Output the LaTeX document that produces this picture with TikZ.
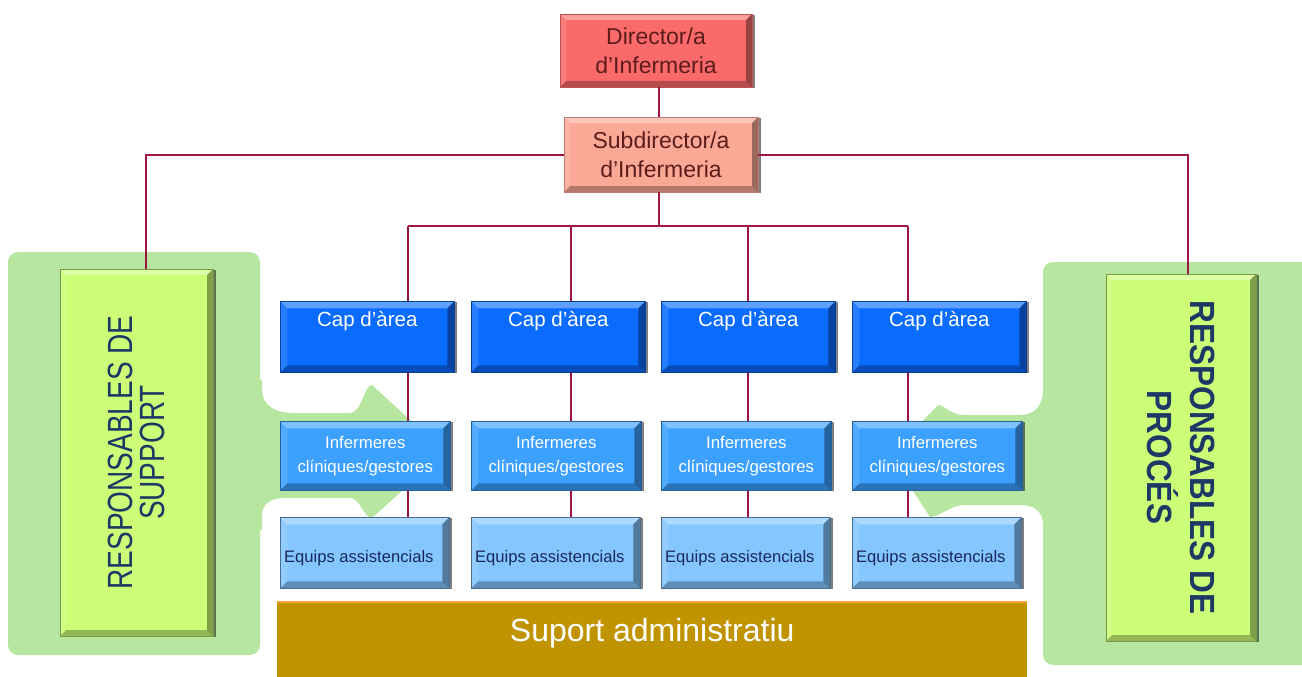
\documentclass[tikz,border=0pt]{standalone}
\usepackage{fontspec}
\setmainfont{Liberation Sans}
\usetikzlibrary{shadows}
\definecolor{linec}{RGB}{160,20,70}
\definecolor{dirc}{RGB}{250,106,106}
\definecolor{subc}{RGB}{251,168,150}
\definecolor{dirtext}{RGB}{92,28,28}
\definecolor{capc}{RGB}{10,108,255}
\definecolor{infc}{RGB}{60,160,255}
\definecolor{eqc}{RGB}{132,198,255}
\definecolor{eqtext}{RGB}{25,40,90}
\definecolor{supc}{RGB}{191,148,0}
\definecolor{supline}{RGB}{245,165,60}
\definecolor{gbg}{RGB}{182,230,160}
\definecolor{gbox}{RGB}{204,255,119}
\definecolor{gtext}{RGB}{30,55,100}
\newcommand\fdir{\fontsize{23}{29}\selectfont}
\newcommand\fcap{\fontsize{20.5}{24}\selectfont}
\newcommand\finf{\fontsize{16.8}{24}\selectfont}
\newcommand\feq{\fontsize{16.6}{20}\selectfont}
\newcommand\fadm{\fontsize{32}{36}\selectfont}
\tikzset{
  bevel/.style={path picture={
    \path (path picture bounding box.north west) coordinate (bNW)
          (path picture bounding box.north east) coordinate (bNE)
          (path picture bounding box.south west) coordinate (bSW)
          (path picture bounding box.south east) coordinate (bSE);
    \fill[white,opacity=.35] (bNW) -- (bNE) -- ([xshift=-#1,yshift=-#1]bNE) -- ([xshift=#1,yshift=-#1]bNW) -- cycle;
    \fill[black,opacity=.28] (bSW) -- (bSE) -- ([xshift=-#1,yshift=#1]bSE) -- ([xshift=#1,yshift=#1]bSW) -- cycle;
    \fill[black,opacity=.38] (bNE) -- (bSE) -- ([xshift=-#1,yshift=#1]bSE) -- ([xshift=-#1,yshift=-#1]bNE) -- cycle;
    \fill[white,opacity=.12] (bNW) -- (bSW) -- ([xshift=#1,yshift=#1]bSW) -- ([xshift=#1,yshift=-#1]bNW) -- cycle;
  }},
  shadowed/.style={drop shadow={shadow xshift=2.5pt,shadow yshift=-1pt,opacity=.5,fill=black}},
  box/.style={inner sep=0pt, anchor=north west, shadowed, line width=.6pt},
  conn/.style={draw=linec, line width=2pt},
  gboxst/.style={inner sep=0pt, fill=gbox, draw=gbox!60!black, line width=.8pt, bevel=6pt, shadowed, text=gtext},
}
\begin{document}
\begin{tikzpicture}[x=1pt,y=-1pt]
\useasboundingbox (0,0) rectangle (1302,677);
% green backgrounds with arrows
\fill[gbg, rounded corners=10pt] (8,252) rectangle (260,655);
\fill[gbg] (250,380) -- (262,380) -- (262,390) .. controls (262,405) and (275,413) .. (293,413)
  -- (350,413) .. controls (362,413) and (364,385) .. (372,385) -- (445,452) -- (372,518)
  .. controls (364,518) and (360,498) .. (350,498) -- (285,498)
  .. controls (272,498) and (262,503) .. (262,515) -- (262,530) -- (250,530) -- cycle;
\fill[gbg, rounded corners=10pt] (1043,262) rectangle (1330,665);
\fill[gbg] (1055,380) -- (1043,380) -- (1043,390) .. controls (1043,405) and (1035,415) .. (1020,415)
  -- (965,415) .. controls (950,415) and (945,405) .. (938,405) -- (890,455) -- (930,517)
  .. controls (940,517) and (950,505) .. (965,505) -- (1020,505)
  .. controls (1035,505) and (1043,512) .. (1043,525) -- (1043,540) -- (1055,540) -- cycle;

% top boxes
\node[box, anchor=center, fill=dirc, draw=dirc!75!black, bevel=6pt, minimum width=192pt, minimum height=73pt,
  text=dirtext, font=\fdir, align=center] (dir) at (656,50.5) {Director/a\\d’Infermeria};
\node[box, anchor=center, fill=subc, draw=subc!75!black, bevel=6pt, minimum width=194pt, minimum height=75pt,
  text=dirtext, font=\fdir, align=center] (sub) at (661,154.5) {Subdirector/a\\d’Infermeria};

% side boxes
\node[gboxst, minimum width=153pt, minimum height=367pt] (lsup) at (136.5,452.5)
  {\rotatebox{90}{\scalebox{0.8}[1]{\parbox{350pt}{\centering\fontsize{35}{31.5}\selectfont RESPONSABLES DE\\SUPPORT}}}};
\node[gboxst, minimum width=150pt, minimum height=367pt] (rproc) at (1181,457.5)
  {\rotatebox{-90}{\scalebox{0.9}[1]{\parbox{360pt}{\centering\bfseries\fontsize{35}{43}\selectfont RESPONSABLES DE\\PROCÉS}}}};

% columns
\coordinate (tj) at (659,226);
\foreach \i/\x/\lx in {1/280/408, 2/471/571, 3/661/748, 4/852/908} {
  \coordinate (t\i) at (\lx,226);
  \node[box, fill=capc, draw=capc!60!black, bevel=7pt, minimum width=174pt, minimum height=71pt,
    text=white, font=\fcap, text height=15pt, text depth=36pt] (cap\i) at (\x,301) {Cap d’àrea};
  \node[box, fill=infc, draw=infc!60!black, bevel=7pt, minimum width=170pt, minimum height=69pt,
    text=white, font=\finf, align=center] (inf\i) at (\x,421) {Infermeres\\clíniques/gestores};
  \node[box, fill=eqc, draw=eqc!55!black, bevel=7pt, minimum width=169pt, minimum height=71pt,
    text=eqtext, font=\feq, text height=31pt, text depth=12pt] (eq\i) at (\x,517) {Equips assistencials\hspace*{12pt}};
}
\foreach \i in {1,2,3,4} {
  \draw[conn] (t\i) -- (cap\i.north -| t\i);
  \draw[conn] (cap\i.south -| t\i) -- (inf\i.north -| t\i);
  \draw[conn] (inf\i.south -| t\i) -- (eq\i.north -| t\i);
}
\draw[conn] (t1) -- (t4);
\draw[conn] (sub.south -| tj) -- (tj);
\coordinate (dj) at (659,100);
\draw[conn] (dir.south -| dj) -- (sub.north -| dj);
\coordinate (lj) at (146,155);
\coordinate (rj) at (1188,155);
\draw[conn] (sub.west) -| (lsup.north -| lj);
\draw[conn] (sub.east) -| (rproc.north -| rj);

% suport administratiu
\node[inner sep=0pt, anchor=north west, fill=supc, minimum width=750pt, minimum height=90pt,
  text=white, font=\fadm, text height=23pt, text depth=35pt] (adm) at (277,602) {Suport administratiu};
\draw[supline, line width=2.5pt] (adm.north west) -- (adm.north east);
\end{tikzpicture}
\end{document}
